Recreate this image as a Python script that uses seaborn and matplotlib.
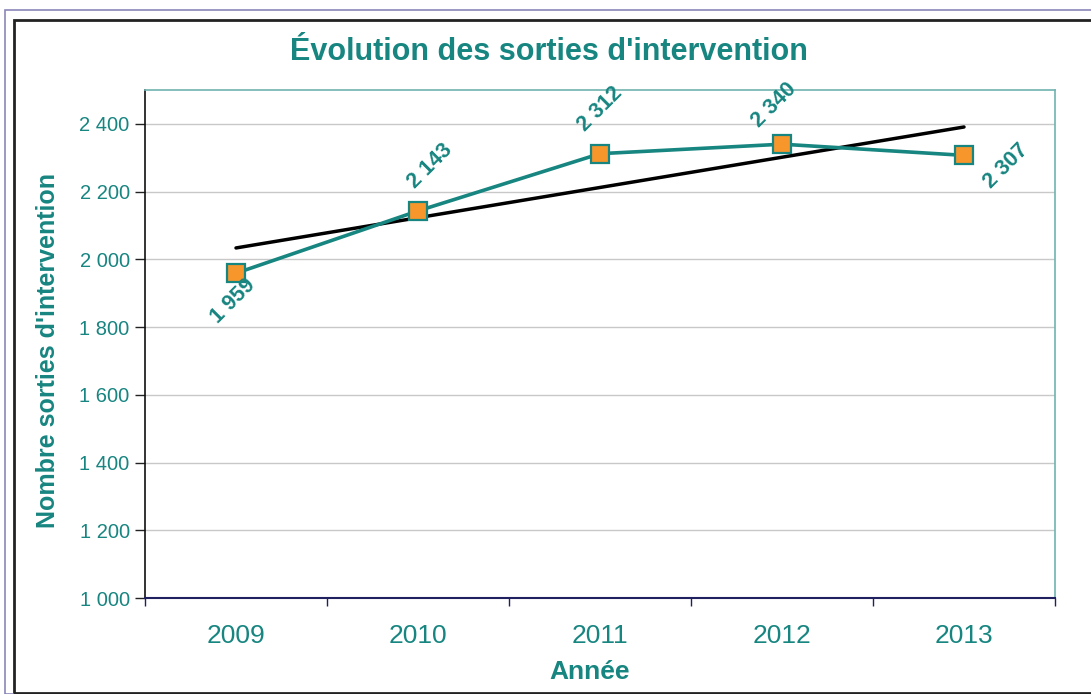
import numpy as np
import pandas as pd
import matplotlib
matplotlib.use("Agg")
import matplotlib.pyplot as plt
from matplotlib.ticker import FuncFormatter, FixedLocator
from matplotlib.patches import Rectangle
import seaborn as sns

years = ["2009", "2010", "2011", "2012", "2013"]
sorties = [1959, 2143, 2312, 2340, 2307]
y_ticks = [1000, 1200, 1400, 1600, 1800, 2000, 2200, 2400]

title = "Évolution des sorties d'intervention"
xlabel = "Année"
ylabel = "Nombre sorties d'intervention"

TEAL = "#178580"
ORANGE = "#F7962B"

sns.set_theme(style="white")
plt.rcParams["font.family"] = ["Liberation Sans", "DejaVu Sans"]

df = pd.DataFrame({"pos": np.arange(len(years)), "annee": years, "sorties": sorties})

fig = plt.figure(figsize=(10.91, 6.94), dpi=100)
ax = fig.add_axes([145/1091, 1-598/694, (1055-145)/1091, (598-90)/694])

# outer frames
fig.patches.append(Rectangle((5/1091, 0), 1.1, 1-10/694, transform=fig.transFigure,
                             fill=False, edgecolor="#8a86b8", linewidth=1.2, zorder=0))
fig.patches.append(Rectangle((14/1091, 1-693/694), 1.1, (693-20)/694, transform=fig.transFigure,
                             fill=False, edgecolor="#222222", linewidth=2.0, zorder=0))

# trend line (linear regression)
sns.regplot(data=df, x="pos", y="sorties", ax=ax, scatter=False, ci=None, truncate=True,
            line_kws=dict(color="black", linewidth=2.5, zorder=3))

# main series
sns.lineplot(data=df, x="pos", y="sorties", ax=ax, color=TEAL, linewidth=2.6,
             marker="s", markersize=12.5, markerfacecolor=ORANGE, markeredgecolor=TEAL,
             markeredgewidth=1.6, zorder=4)

offsets = [(-2, -20), (9, 32), (0, 32), (-6, 28), (30, -8)]
for i, v in enumerate(sorties):
    ax.annotate(f"{v:,}".replace(",", " "), (i, v), xytext=offsets[i], textcoords="offset points",
                ha="center", va="center", rotation=45, color=TEAL, fontsize=15.5,
                fontweight="bold", zorder=5)

ax.set_xlim(-0.5, len(years) - 0.5)
ax.set_ylim(1000, 2500)
ax.yaxis.set_major_locator(FixedLocator(y_ticks))
ax.yaxis.set_major_formatter(FuncFormatter(lambda v, p: f"{int(v):,}".replace(",", " ")))
ax.set_xticks(range(len(years)))
ax.set_xticklabels(years)
ax.set_xticks(np.arange(-0.5, len(years), 1.0), minor=True)
ax.tick_params(axis="x", which="major", length=0, pad=19, labelsize=19, labelcolor=TEAL)
ax.tick_params(axis="x", which="minor", length=6, width=1, color="#202060", direction="out", bottom=True)
ax.tick_params(axis="y", which="major", length=7, width=1, color="#222222", direction="out",
               left=True, labelsize=14.5, labelcolor=TEAL, pad=4)

ax.grid(axis="y", color="#c8c8c8", linewidth=1)
ax.grid(axis="x", visible=False)
ax.set_axisbelow(True)

for s in ["top", "right"]:
    ax.spines[s].set_color("#6fb3b0")
    ax.spines[s].set_linewidth(1.2)
ax.spines["left"].set_color("#111111")
ax.spines["left"].set_linewidth(1.2)
ax.spines["bottom"].set_color("#202060")
ax.spines["bottom"].set_linewidth(1.5)

ax.set_xlabel("")
ax.set_ylabel("")
fig.text(549/1091, 1-52/694, title, ha="center", va="center", fontsize=22,
         fontweight="bold", color=TEAL)
fig.text(48/1091, 1-351/694, ylabel, ha="center", va="center", rotation=90,
         fontsize=18, fontweight="bold", color=TEAL)
fig.text(590/1091, 1-672/694, xlabel, ha="center", va="center", fontsize=19,
         fontweight="bold", color=TEAL)

fig.savefig("out.png", dpi=100, facecolor="white")
